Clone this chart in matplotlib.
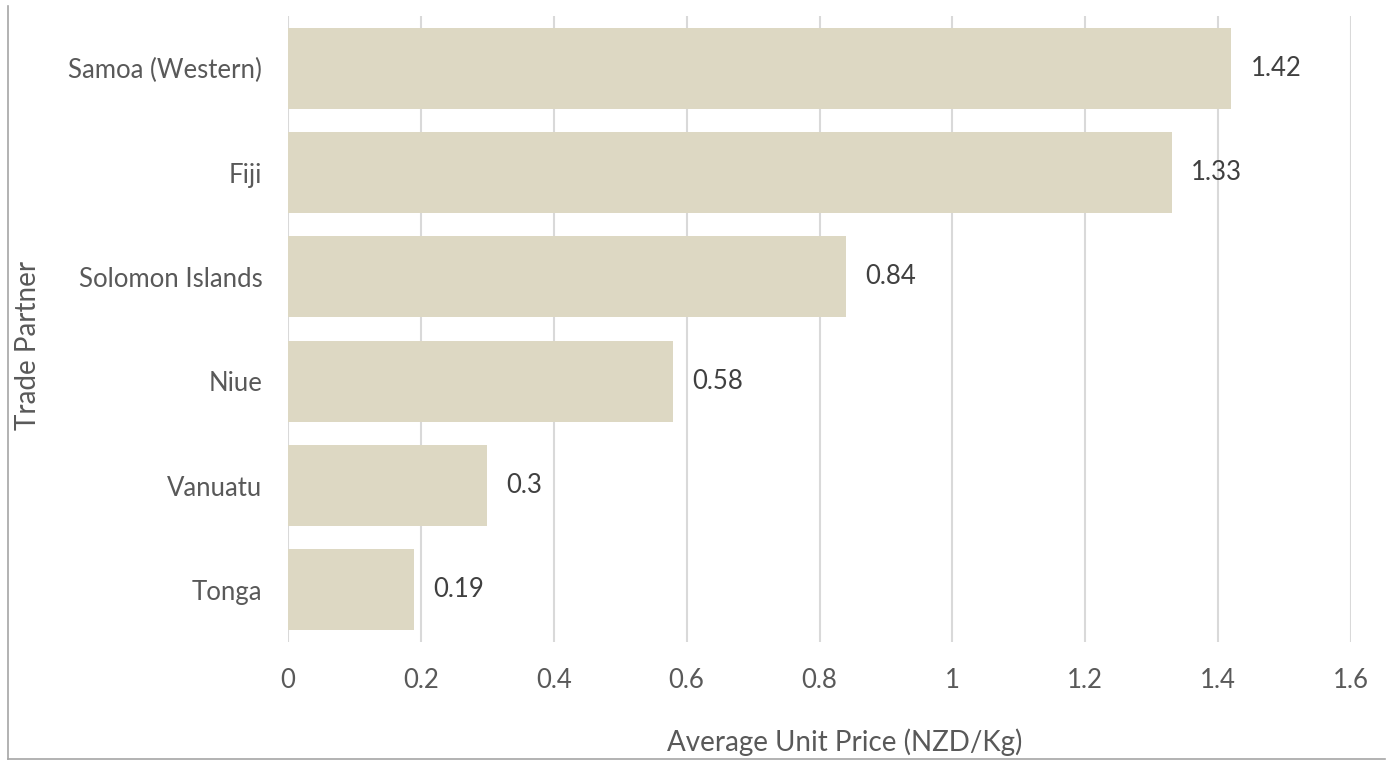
import matplotlib.pyplot as plt
from matplotlib.lines import Line2D

plt.rcParams['font.family'] = ['Lato', 'DejaVu Sans']

partners = ["Samoa (Western)", "Fiji", "Solomon Islands", "Niue", "Vanuatu", "Tonga"]
prices = [1.42, 1.33, 0.84, 0.58, 0.30, 0.19]
price_labels = ["1.42", "1.33", "0.84", "0.58", "0.3", "0.19"]
xticks = [0, 0.2, 0.4, 0.6, 0.8, 1.0, 1.2, 1.4, 1.6]
xtick_labels = ["0", "0.2", "0.4", "0.6", "0.8", "1", "1.2", "1.4", "1.6"]

W, H = 1394, 760
fig = plt.figure(figsize=(W / 100, H / 100), dpi=100)
ax = fig.add_axes([288 / W, 1 - 642 / H, (1351 - 288) / W, (642 - 16) / H])

ypos = list(range(len(partners)))
ax.barh(ypos, prices, height=0.775, color="#DDD8C3", zorder=2)
ax.set_ylim(len(partners) - 0.5, -0.5)
ax.set_xlim(0, 1.6)

ax.set_yticks(ypos)
ax.set_yticklabels(partners, fontsize=18.5, color="#595959")
ax.set_xticks(xticks)
ax.set_xticklabels(xtick_labels, fontsize=18.5, color="#595959")
ax.tick_params(axis="y", length=0, pad=18.5)
ax.tick_params(axis="x", length=0, pad=19)

ax.grid(axis="x", color="#D9D9D9", linewidth=1.5, zorder=0)
ax.set_axisbelow(True)
for s in ax.spines.values():
    s.set_visible(False)

# value labels just past each bar end
for y, v, lab in zip(ypos, prices, price_labels):
    ax.annotate(lab, xy=(v, y), xytext=(19, 0), textcoords="offset pixels",
                ha="left", va="center", fontsize=18.5, color="#404040")

fig.text(845 / W, 1 - 742 / H, "Average Unit Price (NZD/Kg)", ha="center", va="center",
         fontsize=20, color="#595959")
fig.text(28 / W, 1 - 345 / H, "Trade Partner", ha="center", va="center",
         rotation=90, fontsize=20, color="#595959")

# outer chart frame (left and bottom edges)
fig.add_artist(Line2D([8 / W, 8 / W], [1 - 6 / H, 1 - 759 / H], color="#A6A6A6", linewidth=1.2))
fig.add_artist(Line2D([8 / W, 1385 / W], [1 - 759 / H, 1 - 759 / H], color="#A6A6A6", linewidth=1.2))

fig.savefig("out.png", dpi=100)
